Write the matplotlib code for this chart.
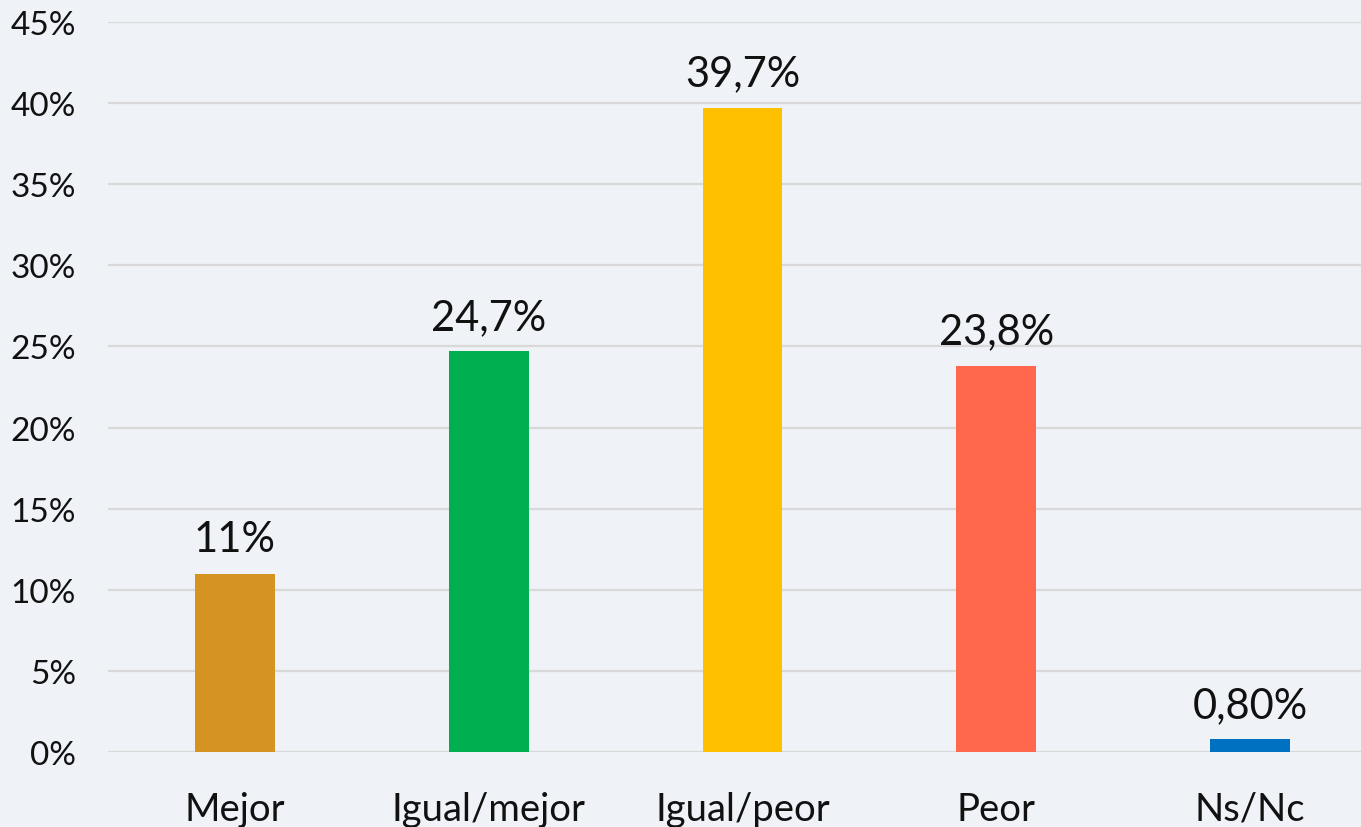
import matplotlib.pyplot as plt

categories = ["Mejor", "Igual/mejor", "Igual/peor", "Peor", "Ns/Nc"]
values = [11, 24.7, 39.7, 23.8, 0.8]
value_labels = ["11%", "24,7%", "39,7%", "23,8%", "0,80%"]
colors = ["#D59422", "#00B050", "#FFC000", "#FF684D", "#0070C0"]
yticks = [0, 5, 10, 15, 20, 25, 30, 35, 40, 45]

plt.rcParams['font.family'] = ['Lato', 'DejaVu Sans']

fig = plt.figure(figsize=(13.61, 8.28), dpi=100)
fig.patch.set_facecolor("#EFF2F6")
ax = fig.add_axes([108 / 1361, 75 / 828, 1269 / 1361, 730 / 828])
ax.set_facecolor("none")

x = range(len(categories))
bars = ax.bar(x, values, width=0.315, color=colors, zorder=3)
for b, lab in zip(bars, value_labels):
    ax.annotate(lab, (b.get_x() + b.get_width() / 2, b.get_height()),
                xytext=(0, 11), textcoords="offset points",
                ha="center", va="bottom", fontsize=30, color="#111111")

ax.set_xlim(-0.5, len(categories) - 0.5)
ax.set_ylim(0, 45)
ax.set_yticks(yticks)
ax.set_yticklabels([f"{t}%" for t in yticks], fontsize=24, color="#111111")
ax.set_xticks(list(x))
ax.set_xticklabels(categories, fontsize=27.5, color="#111111")
ax.tick_params(axis="y", length=0, pad=23)
ax.tick_params(axis="x", length=0, pad=28)
ax.grid(axis="y", color="#D9D9D9", linewidth=1.6, zorder=0)
for s in ax.spines.values():
    s.set_visible(False)

fig.savefig("out.png", dpi=100, facecolor=fig.get_facecolor())
